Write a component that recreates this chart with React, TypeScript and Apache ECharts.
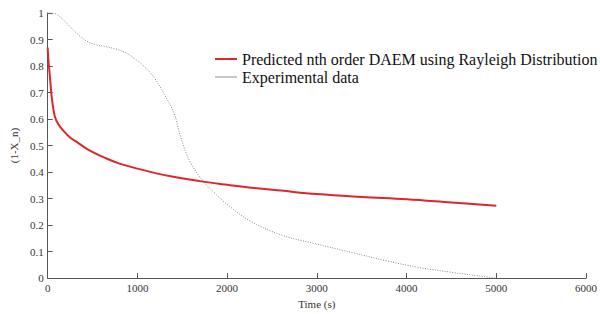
import React, { useEffect, useRef } from "react";
import * as echarts from "echarts";

const predT = [0, 5, 10, 20, 35, 50, 80, 120, 170, 250, 320, 450, 650, 800, 1000, 1200, 1400, 1750, 2000, 2300, 2600, 3000, 3500, 4000, 4500, 5000];
const predV = [0.87, 0.84, 0.815, 0.78, 0.72, 0.67, 0.61, 0.58, 0.558, 0.53, 0.515, 0.485, 0.452, 0.432, 0.413, 0.396, 0.382, 0.363, 0.352, 0.34, 0.33, 0.317, 0.306, 0.297, 0.285, 0.273];

const expT = [0, 25, 100, 210, 320, 430, 540, 650, 760, 860, 970, 1080, 1190, 1300, 1410, 1480, 1590, 1740, 1880, 2000, 2250, 2610, 2980, 3410, 3780, 4140, 4500, 4900, 5000];
const expV = [1.0, 1.0, 0.995, 0.962, 0.925, 0.895, 0.88, 0.873, 0.864, 0.852, 0.828, 0.797, 0.755, 0.693, 0.62, 0.535, 0.437, 0.364, 0.315, 0.278, 0.217, 0.162, 0.13, 0.095, 0.065, 0.04, 0.022, 0.004, 0.0];

const seriesNames = ["Predicted nth order DAEM using Rayleigh Distribution", "Experimental data"];

export default function App() {
  const ref = useRef<HTMLDivElement>(null);
  useEffect(() => {
    if (!ref.current) return;
    const chart = echarts.init(ref.current, null, { renderer: "svg" });
    const serif = "Liberation Serif, Times New Roman, serif";
    const axisCommon = {
      axisLine: { show: true, lineStyle: { color: "#555", width: 1 } },
      axisTick: { show: true, inside: true, length: 5, lineStyle: { color: "#555" } },
      splitLine: { show: false },
      nameTextStyle: { color: "#333", fontFamily: serif, fontSize: 11 },
    };
    const label = { color: "#333", fontFamily: serif, fontSize: 11, margin: 4, formatter: (v: number) => String(v) };
    chart.setOption({
      animation: false,
      backgroundColor: "#fff",
      grid: { left: 41, right: 11, top: 13, bottom: 28, containLabel: false },
      legend: {
        orient: "vertical",
        left: 210,
        top: 46,
        icon: "rect",
        itemWidth: 22,
        itemHeight: 2,
        itemGap: 2,
        textStyle: { fontFamily: serif, fontSize: 16, color: "#111" },
        data: seriesNames,
      },
      xAxis: {
        type: "value",
        min: 0,
        max: 6000,
        interval: 1000,
        name: "Time (s)",
        nameLocation: "middle",
        nameGap: 17,
        ...axisCommon,
        axisLabel: label,
      },
      yAxis: {
        type: "value",
        min: 0,
        max: 1,
        interval: 0.1,
        name: "(1-X_n)",
        nameLocation: "middle",
        nameGap: 17,
        ...axisCommon,
        axisLabel: label,
      },
      series: [
        {
          name: seriesNames[0],
          type: "line",
          data: predT.map((t, i) => [t, predV[i]]),
          smooth: 0.4,
          symbol: "none",
          lineStyle: { color: "#e0252b", width: 2 },
          itemStyle: { color: "#e0252b" },
          z: 3,
        },
        {
          name: seriesNames[1],
          type: "line",
          data: expT.map((t, i) => [t, expV[i]]),
          smooth: 0.4,
          symbol: "none",
          lineStyle: { color: "#8a8a8a", width: 1, type: [1, 1.5] },
          itemStyle: { color: "#c8c8c8" },
          z: 2,
        },
      ],
    });
    const onResize = () => chart.resize();
    window.addEventListener("resize", onResize);
    return () => {
      window.removeEventListener("resize", onResize);
      chart.dispose();
    };
  }, []);
  return <div ref={ref} style={{ position: "fixed", left: 0, top: 0, width: "100vw", height: "100vh" }} />;
}
